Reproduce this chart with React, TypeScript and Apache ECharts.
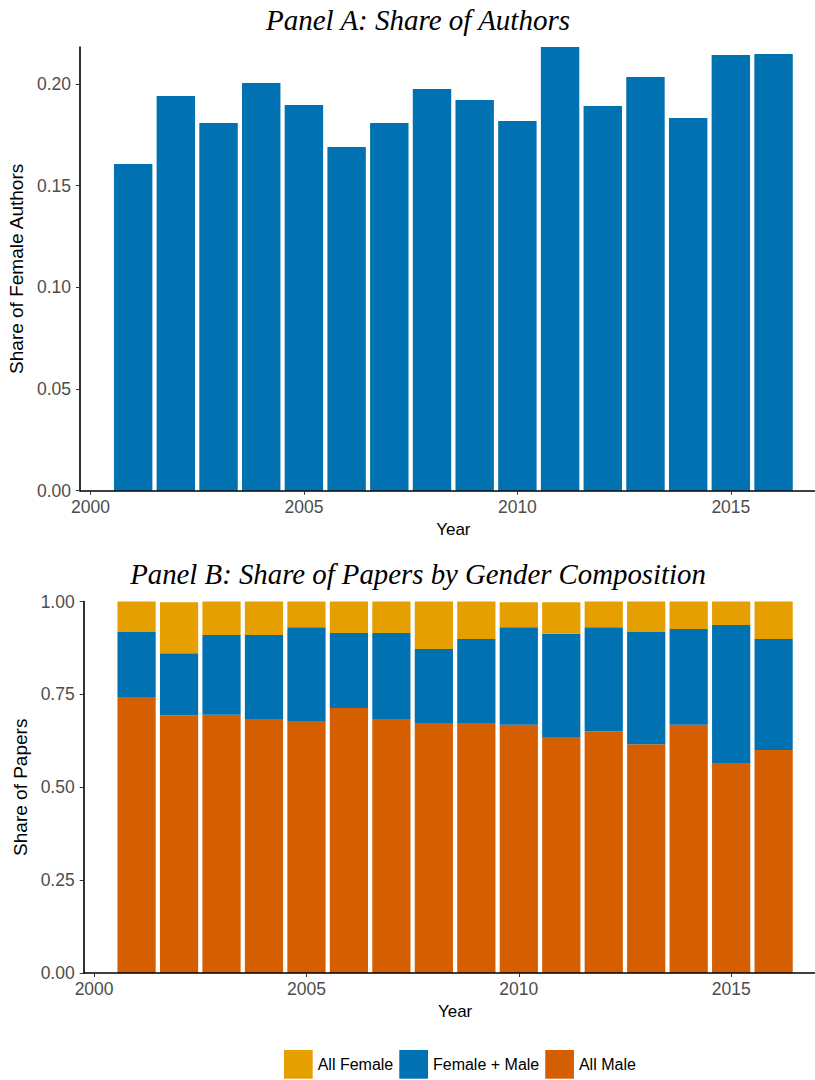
import React, { useEffect, useRef } from "react";
import * as echarts from "echarts";

// ---- data ----
const years = [2001, 2002, 2003, 2004, 2005, 2006, 2007, 2008, 2009, 2010, 2011, 2012, 2013, 2014, 2015, 2016];
const femaleAuthorShare = [0.1607, 0.1941, 0.1808, 0.2005, 0.1897, 0.169, 0.1808, 0.1975, 0.1921, 0.1818, 0.2182, 0.1892, 0.2034, 0.1833, 0.2143, 0.2147];
const allMaleShare = [0.741, 0.693, 0.695, 0.684, 0.676, 0.713, 0.684, 0.673, 0.673, 0.668, 0.633, 0.651, 0.616, 0.668, 0.563, 0.6];
const femaleMaleShare = [0.177, 0.168, 0.215, 0.226, 0.255, 0.202, 0.231, 0.199, 0.226, 0.263, 0.28, 0.28, 0.302, 0.258, 0.374, 0.299];
const allFemaleShare = [0.082, 0.137, 0.09, 0.09, 0.069, 0.085, 0.085, 0.128, 0.101, 0.067, 0.085, 0.069, 0.082, 0.074, 0.063, 0.101];
const xTicks = [2000, 2005, 2010, 2015];
const yTicksA = [0, 0.05, 0.1, 0.15, 0.2];
const yTicksB = [0, 0.25, 0.5, 0.75, 1];
const seriesNames = ["All Female", "Female + Male", "All Male"];
const colors = { "All Female": "#E69F00", "Female + Male": "#0072B2", "All Male": "#D55E00" };

const SANS = "Liberation Sans, Arial, sans-serif";
const SERIF = "Liberation Serif, Times New Roman, serif";

export default function App() {
  const ref = useRef<HTMLDivElement>(null);
  useEffect(() => {
    if (!ref.current) return;
    const chart = echarts.init(ref.current, null, { renderer: "svg" });

    const barHalf = 0.45;
    const dMin = years[0] - barHalf;
    const dMax = years[years.length - 1] + barHalf;
    const pad = (dMax - dMin) * 0.05;
    const xMin = dMin - pad;
    const xMax = dMax + pad;

    const gridA = { left: 80, top: 47, width: 746.7, height: 443.7, outerBoundsMode: "none", containLabel: false };
    const gridB = { left: 83.7, top: 601.5, width: 742.8, height: 371.5, outerBoundsMode: "none", containLabel: false };
    const bwA = (gridA.width / (xMax - xMin)) * 0.9;
    const bwB = (gridB.width / (xMax - xMin)) * 0.9;

    const axisLine = { show: true, lineStyle: { color: "#000", width: 1.6 } };
    const axisTick = (vals: number[]) => ({ show: true, length: 4, lineStyle: { color: "#333", width: 1 }, customValues: vals });

    const xAxisBase = (gridIndex: number) => ({
      type: "value",
      gridIndex,
      min: xMin,
      max: xMax,
      z: 5,
      name: "Year",
      nameLocation: "middle",
      nameGap: 30,
      nameTextStyle: { color: "#000", fontSize: 17, fontFamily: SANS },
      axisLine,
      axisTick: axisTick(xTicks),
      splitLine: { show: false },
      axisLabel: { customValues: xTicks, color: "#4D4D4D", fontSize: 17.5, fontFamily: SANS, margin: 7, formatter: (v: number) => String(v) },
    });

    const yAxisBase = (gridIndex: number, name: string, max: number, ticks: number[], gap: number) => ({
      type: "value",
      gridIndex,
      min: 0,
      max,
      z: 5,
      name,
      nameLocation: "middle",
      nameRotate: 90,
      nameGap: gap,
      nameTextStyle: { color: "#000", fontSize: 19, fontFamily: SANS },
      axisLine,
      axisTick: axisTick(ticks),
      splitLine: { show: false },
      axisLabel: { customValues: ticks, color: "#4D4D4D", fontSize: 17.5, fontFamily: SANS, margin: 9, formatter: (v: number) => v.toFixed(2) },
    });

    // value first so that the y dimension is the stacked one
    const stackSeries = [
      { name: "All Male", data: allMaleShare },
      { name: "Female + Male", data: femaleMaleShare },
      { name: "All Female", data: allFemaleShare },
    ].map((s) => ({
      type: "bar",
      name: s.name,
      xAxisIndex: 1,
      yAxisIndex: 1,
      stack: "papers",
      barWidth: bwB,
      encode: { x: 1, y: 0 },
      itemStyle: { color: (colors as any)[s.name] },
      data: years.map((y, i) => [s.data[i], y]),
    }));

    const option: any = {
      animation: false,
      textStyle: { fontFamily: SANS },
      grid: [gridA, gridB],
      xAxis: [xAxisBase(0), xAxisBase(1)],
      yAxis: [
        yAxisBase(0, "Share of Female Authors", Math.max(...femaleAuthorShare), yTicksA, 49),
        yAxisBase(1, "Share of Papers", 1, yTicksB, 52),
      ],
      legend: {
        data: seriesNames,
        left: 284,
        top: 1050,
        padding: 0,
        itemWidth: 28.7,
        itemHeight: 28.7,
        itemGap: 6,
        icon: "rect",
        textStyle: { color: "#000", fontSize: 16, fontFamily: SANS },
        selectedMode: false,
      },
      graphic: [
        {
          type: "text",
          x: 418,
          y: 20,
          style: { text: "Panel A: Share of Authors", fontFamily: SERIF, fontStyle: "italic", fontSize: 29, fill: "#000", align: "center", verticalAlign: "middle" },
        },
        {
          type: "text",
          x: 418,
          y: 574,
          style: { text: "Panel B: Share of Papers by Gender Composition", fontFamily: SERIF, fontStyle: "italic", fontSize: 28.8, fill: "#000", align: "center", verticalAlign: "middle" },
        },
      ],
      series: [
        {
          type: "bar",
          name: "Share of Female Authors",
          xAxisIndex: 0,
          yAxisIndex: 0,
          barWidth: bwA,
          itemStyle: { color: "#0072B2" },
          data: years.map((y, i) => [y, femaleAuthorShare[i]]),
        },
        ...stackSeries,
      ],
    };
    chart.setOption(option);
    return () => chart.dispose();
  }, []);
  return <div ref={ref} style={{ position: "absolute", left: 0, top: 0, width: 815, height: 1080, background: "#fff" }} />;
}
